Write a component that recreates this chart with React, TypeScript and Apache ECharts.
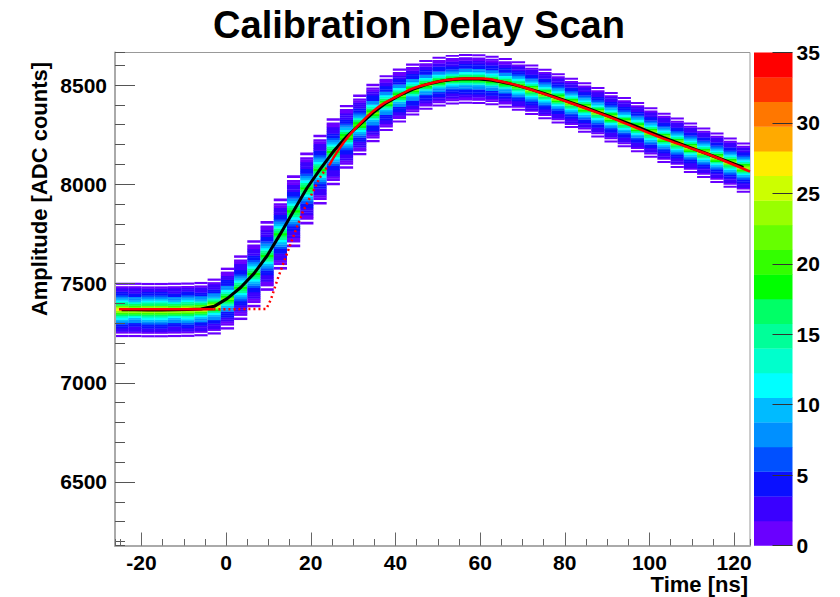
import React, { useEffect, useRef } from "react";
import * as echarts from "echarts";

// ---------- data ----------
const timeMin = -26.25;
const timeMax = 123.75;
const ampMin = 6180;
const ampMax = 8664;
const binWidth = 3.125; // ns per time column

// mean amplitude (profile) of each time column
const colMean = [
  7368, 7368, 7367, 7367, 7368, 7369, 7372, 7385, 7425, 7480,
  7550, 7640, 7750, 7865, 7980, 8075, 8165, 8240, 8300, 8360,
  8410, 8448, 8478, 8502, 8518, 8528, 8532, 8531, 8524, 8512,
  8496, 8477, 8456, 8434, 8411, 8388, 8364, 8339, 8314, 8289,
  8262, 8235, 8210, 8185, 8160, 8135, 8110, 8085,
];
// half height (ADC) of the filled band of each column
const colHalf = [
  136, 136, 136, 136, 136, 136, 136, 140, 155, 162,
  168, 175, 178, 180, 180, 175, 168, 160, 152, 146,
  140, 135, 130, 124, 124, 124, 124, 124, 124, 124,
  124, 126, 126, 126, 126, 126, 126, 126, 126, 126,
  126, 126, 126, 126, 126, 126, 126, 126,
];
// highest cell count of each column
const colPeak = [
  27, 26, 27, 27, 26, 27, 26, 25, 21, 19,
  18, 18, 18, 18, 18, 18, 19, 20, 20, 21,
  21, 21, 21, 21, 21, 20, 21, 21, 21, 21,
  22, 23, 23, 24, 23, 24, 23, 24, 23, 24,
  23, 24, 23, 24, 23, 24, 23, 24,
];
// typical vertical profile of a column (bottom -> top), relative counts
const profileShape = [
  0.04, 0, 0.04, 0.07, 0.1, 0.13, 0.17, 0.21, 0.26, 0.32, 0.39,
  0.48, 0.6, 0.75, 0.9, 1.0, 0.92, 0.78, 0.63, 0.5, 0.4,
  0.32, 0.26, 0.21, 0.17, 0.13, 0.1, 0.07, 0.04, 0, 0.04,
];

// colour palette levels (20 contours from 0 to 35)
const levelStep = 1.75;
const paletteColors = [
  "#6A00FF", "#3A00FF", "#0A10FF", "#0050FF", "#0090FF",
  "#00BBFF", "#00FFFF", "#00FFCC", "#00FF99", "#00FF66",
  "#00FF00", "#33FF00", "#66FF00", "#99FF00", "#CCFF00",
  "#FFEE00", "#FFAA00", "#FF7700", "#FF3300", "#FF0000",
];
const colorbarTicks = [0, 5, 10, 15, 20, 25, 30, 35];

// fit function (red)
const fitPlateauT = [-25.3, -3];
const fitPlateauA = [7370, 7370];
const fitDotT = [-3, 9.5, 10.6, 12.2, 14.1, 15.7, 16.9, 18.1, 19.3, 20.5, 22.0, 23.6, 24.4];
const fitDotA = [7370, 7372, 7421, 7525, 7635, 7727, 7794, 7861, 7912, 7962, 8029, 8079, 8098];
const fitSolidT = [
  24.4, 26.5, 29.1, 31.8, 34.6, 37.4, 40.3, 44, 48.1, 52, 55.9, 60.7,
  64.5, 68.7, 74, 79.6, 85.5, 91.5, 97.4, 103.3, 109.3, 115.2, 123.75,
];
const fitSolidA = [
  8098, 8172, 8247, 8310, 8366, 8410, 8442, 8482, 8508, 8525, 8533, 8533,
  8520, 8499, 8463, 8423, 8378, 8331, 8280, 8230, 8185, 8140, 8064,
];

// ---------- build tables ----------
const cells: number[][] = [];
colMean.forEach((m, k) => {
  const t0 = timeMin + k * binWidth;
  const t1 = t0 + binWidth;
  const h = (2 * colHalf[k]) / profileShape.length;
  profileShape.forEach((s, i) => {
    const c = Math.round(colPeak[k] * s);
    if (c <= 0) return;
    const a0 = m - colHalf[k] + i * h;
    cells.push([t0, t1, a0, a0 + h, c]);
  });
});
const profileLine = colMean.map((m, k) => [timeMin + (k + 0.5) * binWidth, m]);
const zip = (a: number[], b: number[]) => a.map((v, i) => [v, b[i]]);
const colorbarData = paletteColors.map((_, i) => [i * levelStep, (i + 1) * levelStep, i]);

const FONT = "Liberation Sans";
const labelStyle = { fontFamily: FONT, fontWeight: "bold" as const, fontSize: 21, color: "#000" };
const plain = (v: number) => String(v);

export default function App() {
  const ref = useRef<HTMLDivElement>(null);
  useEffect(() => {
    if (!ref.current) return;
    const chart = echarts.init(ref.current, null, { renderer: "svg" });
    const option: any = {
      animation: false,
      backgroundColor: "#fff",
      grid: [
        { left: 115, top: 52.5, width: 635, height: 493, show: true, borderColor: "#999", borderWidth: 1, containLabel: false },
        { left: 754, top: 52.5, width: 38.5, height: 493, show: false, containLabel: false },
      ],
      xAxis: [
        {
          type: "value", gridIndex: 0, min: timeMin, max: timeMax, splitNumber: 7, position: "bottom", z: 10,
          axisLine: { show: true, onZero: false, lineStyle: { color: "#aaa", width: 2 } },
          axisTick: { show: true, inside: true, length: 13, lineStyle: { color: "#666" } },
          axisLabel: { ...labelStyle, margin: 6, showMinLabel: false, showMaxLabel: false, formatter: plain },
          splitLine: { show: false },
        },
        {
          type: "value", gridIndex: 0, min: timeMin, max: timeMax, splitNumber: 30, position: "bottom", z: 10,
          axisLine: { show: false, onZero: false },
          axisTick: { show: true, inside: true, length: 6.5, lineStyle: { color: "#666" } },
          axisLabel: { show: false },
          splitLine: { show: false },
        },
        { type: "value", gridIndex: 1, min: 0, max: 1, show: false, axisLine: { onZero: false } },
      ],
      yAxis: [
        {
          type: "value", gridIndex: 0, min: ampMin, max: ampMax, splitNumber: 5, position: "left", z: 10,
          axisLine: { show: true, onZero: false, lineStyle: { color: "#aaa", width: 2 } },
          axisTick: { show: true, inside: true, length: 20, lineStyle: { color: "#555" } },
          axisLabel: { ...labelStyle, margin: 8, showMinLabel: false, showMaxLabel: false, formatter: plain },
          splitLine: { show: false },
        },
        {
          type: "value", gridIndex: 0, min: ampMin, max: ampMax, splitNumber: 25, position: "left", z: 10,
          axisLine: { show: false, onZero: false },
          axisTick: { show: true, inside: true, length: 10, lineStyle: { color: "#555" } },
          axisLabel: { show: false },
          splitLine: { show: false },
        },
        {
          type: "value", gridIndex: 1, min: colorbarTicks[0], max: colorbarTicks[colorbarTicks.length - 1], interval: 5,
          position: "right", z: 10,
          axisLine: { show: false, onZero: false },
          axisTick: { show: true, inside: true, length: 20, lineStyle: { color: "#333" } },
          axisLabel: { ...labelStyle, margin: 4, formatter: plain },
          splitLine: { show: false },
        },
      ],
      visualMap: {
        type: "piecewise", show: false, dimension: 4, seriesIndex: 0,
        pieces: paletteColors.map((c, i) => ({ gte: i * levelStep, lt: (i + 1) * levelStep + (i === paletteColors.length - 1 ? 0.01 : 0), color: c })),
      },
      graphic: [
        { type: "text", x: 419, y: 25, style: { text: "Calibration Delay Scan", fontFamily: FONT, fontWeight: "bold", fontSize: 38, fill: "#000", textAlign: "center", textVerticalAlign: "middle" } },
        { type: "text", x: 39, y: 189, rotation: Math.PI / 2, style: { text: "Amplitude [ADC counts]", fontFamily: FONT, fontWeight: "bold", fontSize: 22, fill: "#000", textAlign: "center", textVerticalAlign: "middle" } },
        { type: "text", x: 748, y: 584, style: { text: "Time [ns]", fontFamily: FONT, fontWeight: "bold", fontSize: 22, fill: "#000", textAlign: "right", textVerticalAlign: "middle" } },
      ],
      series: [
        {
          type: "custom", xAxisIndex: 0, yAxisIndex: 0, clip: true, z: 2,
          encode: { x: [0, 1], y: [2, 3] },
          data: cells,
          renderItem: (_p: any, api: any) => {
            const p0 = api.coord([api.value(0), api.value(2)]);
            const p1 = api.coord([api.value(1), api.value(3)]);
            return {
              type: "rect",
              shape: { x: p0[0], y: p1[1], width: p1[0] - p0[0], height: p0[1] - p1[1] + 0.4 },
              style: { fill: api.visual("color") },
            };
          },
        },
        {
          type: "line", xAxisIndex: 0, yAxisIndex: 0, z: 3, symbol: "none", data: profileLine,
          lineStyle: { color: "#000", width: 3 },
        },
        {
          type: "line", xAxisIndex: 0, yAxisIndex: 0, z: 4, symbol: "none", data: zip(fitPlateauT, fitPlateauA),
          lineStyle: { color: "#ff0000", width: 2.5 },
        },
        {
          type: "line", xAxisIndex: 0, yAxisIndex: 0, z: 4, symbol: "none", data: zip(fitDotT, fitDotA),
          lineStyle: { color: "#ff0000", width: 2.5, type: [2, 3] },
        },
        {
          type: "line", xAxisIndex: 0, yAxisIndex: 0, z: 4, symbol: "none", data: zip(fitSolidT, fitSolidA), smooth: 0.3,
          lineStyle: { color: "#ff0000", width: 2.5 },
        },
        {
          type: "custom", xAxisIndex: 2, yAxisIndex: 2, z: 2,
          encode: { y: [0, 1] },
          data: colorbarData,
          renderItem: (_p: any, api: any) => {
            const p0 = api.coord([0, api.value(0)]);
            const p1 = api.coord([1, api.value(1)]);
            return {
              type: "rect",
              shape: { x: p0[0], y: p1[1], width: p1[0] - p0[0], height: p0[1] - p1[1] + 0.3 },
              style: { fill: paletteColors[api.value(2)] },
            };
          },
        },
      ],
    };
    chart.setOption(option);
    return () => chart.dispose();
  }, []);
  return (
    <div
      ref={ref}
      style={{ position: "fixed", left: 0, top: 0, width: 840, height: 597, background: "#fff" }}
    />
  );
}
